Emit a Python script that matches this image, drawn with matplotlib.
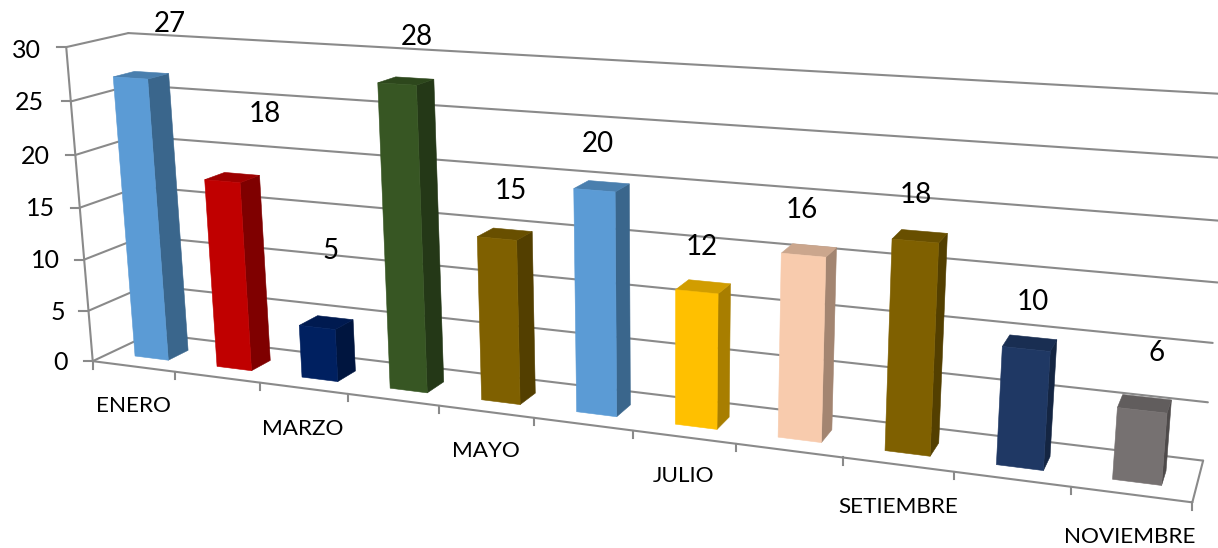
import numpy as np
import matplotlib
matplotlib.use("Agg")
import matplotlib.pyplot as plt
from matplotlib.patches import Polygon

months = ["ENERO", "FEBRERO", "MARZO", "ABRIL", "MAYO", "JUNIO", "JULIO",
          "AGOSTO", "SETIEMBRE", "OCTUBRE", "NOVIEMBRE"]
values = [27, 18, 5, 28, 15, 20, 12, 16, 18, 10, 6]
y_ticks = [0, 5, 10, 15, 20, 25, 30]
shown_months = ["ENERO", "MARZO", "MAYO", "JULIO", "SETIEMBRE", "NOVIEMBRE"]

front_colors = ["#5B9BD5", "#C00000", "#002060", "#375623", "#7F6000", "#5B9BD5",
                "#FFC000", "#F8CBAD", "#7F6000", "#1F3864", "#767171"]
side_colors = ["#3A668C", "#7F0000", "#00153F", "#243817", "#533F00", "#3A668C",
               "#A87E00", "#A38571", "#533F00", "#142542", "#4E4A4A"]
top_colors = ["#4A7FAE", "#9E0000", "#001A50", "#2D471C", "#684F00", "#4A7FAE",
              "#D19D00", "#CBA68D", "#684F00", "#192E52", "#615D5D"]

W, H = 1218, 548
GRID = "#8A8A8A"

# camera fit: (category, value, depth) <-> pixel
anchors = [
    (0, 0, 0, 93, 361), (0, 5, 0, 88, 311), (0, 10, 0, 84, 258), (0, 15, 0, 80, 207),
    (0, 20, 0, 76, 155), (0, 25, 0, 72, 101), (0, 30, 0, 66, 47),
    (1, 0, 0, 174, 372), (2, 0, 0, 259, 383), (3, 0, 0, 348, 395), (4, 0, 0, 439, 406),
    (5, 0, 0, 534, 418), (6, 0, 0, 633, 431), (7, 0, 0, 736, 445), (8, 0, 0, 843, 458),
    (9, 0, 0, 954, 472), (10, 0, 0, 1070, 486), (11, 0, 0, 1193, 501),
    (0, 30, 1, 127, 34), (0, 0, 1, 152, 333), (11, 0, 1, 1203, 460),
    (11, 5, 1, 1208, 402), (11, 10, 1, 1213, 343), (11, 30, 1, 1233, 95),
]


def fit_camera(pts):
    rows = []
    for cx, cv, cd, px, py in pts:
        q = [cx, cv, cd, 1]
        rows.append(q + [0, 0, 0, 0] + [-px * c for c in q])
        rows.append([0, 0, 0, 0] + q + [-py * c for c in q])
    A = np.array(rows, float)
    scale = np.abs(A).max(axis=0)
    _, _, vt = np.linalg.svd(A / scale)
    return (vt[-1] / scale).reshape(3, 4)


CAM = fit_camera(anchors)


def proj(cx, cv, cd):
    p = CAM @ np.array([cx, cv, cd, 1.0])
    return p[0] / p[2], p[1] / p[2]


fig = plt.figure(figsize=(W / 100, H / 100), dpi=100)
ax = fig.add_axes([0, 0, 1, 1])
ax.set_xlim(0, W)
ax.set_ylim(H, 0)
ax.axis("off")
plt.rcParams["font.family"] = ["Lato", "DejaVu Sans"]

NCAT = len(months)
LW = 1.5


def seg(a, b):
    pa, pb = proj(*a), proj(*b)
    ax.plot([pa[0], pb[0]], [pa[1], pb[1]], color=GRID, lw=LW, solid_capstyle="round", zorder=1)


# walls and floor
for v in y_ticks:
    seg((0, v, 0), (0, v, 1))
    seg((0, v, 1), (NCAT, v, 1))
    p = proj(0, v, 0)
    ax.plot([p[0] - 9, p[0]], [p[1], p[1]], color=GRID, lw=LW, zorder=1)
seg((0, 0, 0), (0, 30, 0))
seg((0, 0, 0), (NCAT, 0, 0))
seg((NCAT, 0, 0), (NCAT, 0, 1))
for i in range(NCAT + 1):
    p = proj(i, 0, 0)
    ax.plot([p[0], p[0]], [p[1], p[1] + 7.5], color=GRID, lw=LW, zorder=1)

# bars
BAR_X0, BAR_X1 = 0.31, 0.72
DEPTH0, DEPTH1 = 0.29, 0.64
for i, val in enumerate(values):
    x0, x1 = i + BAR_X0, i + BAR_X1
    front = [(x0, 0, DEPTH0), (x1, 0, DEPTH0), (x1, val, DEPTH0), (x0, val, DEPTH0)]
    side = [(x1, 0, DEPTH0), (x1, 0, DEPTH1), (x1, val, DEPTH1), (x1, val, DEPTH0)]
    top = [(x0, val, DEPTH0), (x1, val, DEPTH0), (x1, val, DEPTH1), (x0, val, DEPTH1)]
    for pts, col in ((side, side_colors[i]), (top, top_colors[i]), (front, front_colors[i])):
        ax.add_patch(Polygon([proj(*q) for q in pts], closed=True, fc=col, ec=col,
                             lw=0.4, zorder=3))

# text
TEXT_DY = 2
y_label_right = [68, 65, 60, 55, 50, 44, 41]
y_label_mid = [361, 310, 258, 207, 155, 101, 48]
for v, xr, ym in zip(y_ticks, y_label_right, y_label_mid):
    ax.text(xr, ym + TEXT_DY, str(v), ha="right", va="center", fontsize=18, color="#000000", zorder=5)

cat_label_pos = [(133, 404), (303, 427), (486, 449), (684, 474), (898, 505), (1130, 535)]
for name, (tx, ty) in zip(shown_months, cat_label_pos):
    ax.text(tx, ty + TEXT_DY, name, ha="center", va="center", fontsize=16.2, color="#000000", zorder=5)

data_label_pos = [(170, 22), (265, 112), (331, 249), (417, 35), (511, 189), (598, 142),
                  (702, 245), (802, 208), (916, 193), (1033, 300), (1157, 351)]
for val, (tx, ty) in zip(values, data_label_pos):
    ax.text(tx, ty + TEXT_DY, str(val), ha="center", va="center", fontsize=20, color="#000000", zorder=5)

fig.savefig("out.png", dpi=100, facecolor="white")
